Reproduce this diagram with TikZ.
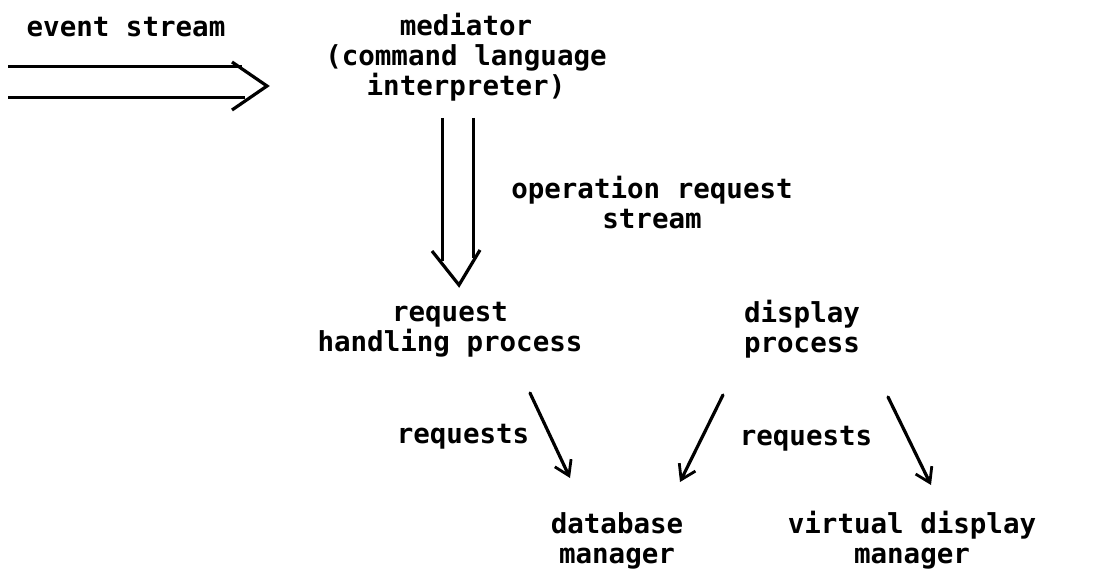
\documentclass[tikz,border=0pt]{standalone}
\usepackage{fontspec}
\newfontfamily\plotfont{DejaVu Sans Mono}
\usetikzlibrary{arrows.meta}
\begin{document}
\begin{tikzpicture}[x=1pt,y=-1pt,
  lbl/.style={font=\plotfont\bfseries\fontsize{27.5}{30}\selectfont, align=center, inner sep=0pt, anchor=base},
  arr/.style={line width=3.2pt, line cap=round, -{Straight Barb[length=14pt,width=18pt,line width=2.8pt]}},
  dbl/.style={line width=3pt},
  chev/.style={line width=3.2pt, line join=miter}]
\useasboundingbox (0,0) rectangle (1097,572);

% labels (anchor base = baseline of the last line)
\node[lbl] (es)   at (126,37)  {event stream};
\node[lbl] (med)  at (466,96)  {mediator\\(command language\\interpreter)};
\node[lbl] (ors)  at (652,228) {operation request\\stream};
\node[lbl] (rhp)  at (450,351) {request\\handling process};
\node[lbl] (dp)   at (802,352) {display\\process};
\node[lbl] (rq1)  at (463,443) {requests};
\node[lbl] (rq2)  at (806,445) {requests};
\node[lbl] (dbm)  at (617,563) {database\\manager};
\node[lbl] (vdm)  at (912,563) {virtual display\\manager};

% event stream double arrow
\coordinate (esS) at (8,82.5);
\coordinate (esT) at (267,86);
\draw[dbl] ([yshift=15.5pt]esS) -- ([xshift=-25pt,yshift=19pt]esT);
\draw[dbl] ([yshift=-15.5pt]esS) -- ([xshift=-22pt,yshift=-12pt]esT);
\draw[chev] ([xshift=-35pt,yshift=24pt]esT) -- (esT) -- ([xshift=-35pt,yshift=-24pt]esT);

% operation request stream double arrow
\coordinate (opS) at (457.5,118);
\coordinate (opT) at (459,285);
\draw[dbl] ([xshift=-15.5pt]opS) -- ([xshift=-17pt,yshift=24pt]opT);
\draw[dbl] ([xshift=15.5pt]opS) -- ([xshift=14pt,yshift=27pt]opT);
\draw[chev] ([xshift=-27pt,yshift=34pt]opT) -- (opT) -- ([xshift=21pt,yshift=35pt]opT);

% request arrows
\coordinate (a1s) at (530,393); \coordinate (a1t) at (570,478);
\coordinate (a2s) at (723,395); \coordinate (a2t) at (680,482);
\coordinate (a3s) at (888,397); \coordinate (a3t) at (931,485);
\draw[arr] (a1s) -- (a1t);
\draw[arr] (a2s) -- (a2t);
\draw[arr] (a3s) -- (a3t);
\end{tikzpicture}
\end{document}
